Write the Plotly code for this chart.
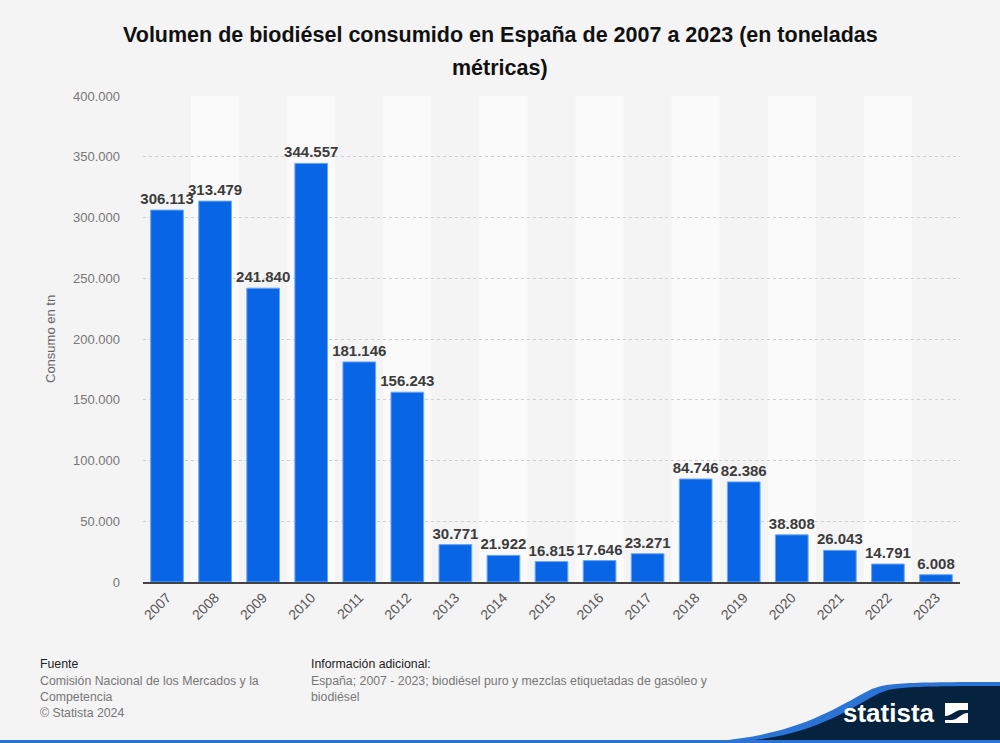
import plotly.graph_objects as go

years = ["2007","2008","2009","2010","2011","2012","2013","2014","2015","2016","2017","2018","2019","2020","2021","2022","2023"]
values = [306113,313479,241840,344557,181146,156243,30771,21922,16815,17646,23271,84746,82386,38808,26043,14791,6008]
y_ticks = [0,50000,100000,150000,200000,250000,300000,350000,400000]
y_tick_labels = ["0","50.000","100.000","150.000","200.000","250.000","300.000","350.000","400.000"]

W, H = 1000, 743
L, R, T, B = 143, 40, 96, 161
PW, PH = W - L - R, H - T - B

def px(x):
    return (x - L) / PW

def py(y):
    return (H - B - y) / PH

def fmt(v):
    return f"{v:,}".replace(",", ".")

fig = go.Figure()
fig.add_trace(go.Bar(
    x=years, y=values,
    marker=dict(color="#0866e6", line=dict(color="#6ea6f0", width=1)),
    text=[fmt(v) for v in values], textposition="outside",
    textfont=dict(family="Liberation Sans, Arial", size=15, color="#3c3c3c"),
    texttemplate="<b>%{text}</b>", cliponaxis=False,
    hoverinfo="skip", width=0.68,
))

shapes = []
for i, yr in enumerate(years):
    if i % 2 == 1:
        shapes.append(dict(type="rect", xref="x", yref="paper", x0=i-0.5, x1=i+0.5, y0=0, y1=1,
                           fillcolor="#fafafa", line=dict(width=0), layer="below"))

# footer logo shapes (pixel -> paper)
blue = (f"M {px(715)} {py(741)} C {px(800)} {py(735)}, {px(840)} {py(705)}, {px(870)} {py(690)} "
        f"C {px(885)} {py(683)}, {px(900)} {py(682)}, {px(1005)} {py(682)} L {px(1005)} {py(745)} L {px(715)} {py(745)} Z")
navy = (f"M {px(745)} {py(741)} C {px(815)} {py(735)}, {px(850)} {py(708)}, {px(878)} {py(694)} "
        f"C {px(892)} {py(687)}, {px(905)} {py(686)}, {px(1005)} {py(686)} L {px(1005)} {py(745)} L {px(745)} {py(745)} Z")
shapes.append(dict(type="path", xref="paper", yref="paper", path=blue, fillcolor="#2b74d6", line=dict(width=0)))
shapes.append(dict(type="path", xref="paper", yref="paper", path=navy, fillcolor="#05233e", line=dict(width=0)))
# bottom line
shapes.append(dict(type="rect", xref="paper", yref="paper", x0=px(-5), x1=px(1005), y0=py(745), y1=py(740),
                   fillcolor="#2b74d6", line=dict(width=0)))
# logo icon
shapes.append(dict(type="rect", xref="paper", yref="paper", x0=px(945), x1=px(968), y0=py(723), y1=py(703),
                   fillcolor="white", line=dict(width=0)))
icon = (f"M {px(945)} {py(716)} C {px(952)} {py(716)}, {px(955)} {py(710)}, {px(961)} {py(710)} L {px(968)} {py(710)} "
        f"L {px(968)} {py(713)} C {px(961)} {py(713)}, {px(958)} {py(720)}, {px(951)} {py(720)} L {px(945)} {py(720)} Z")
shapes.append(dict(type="path", xref="paper", yref="paper", path=icon, fillcolor="#05233e", line=dict(width=0)))

fig.update_layout(shapes=shapes)

fig.update_layout(
    width=W, height=H,
    paper_bgcolor="#f4f4f4", plot_bgcolor="#f4f4f4",
    margin=dict(l=L, r=R, t=T, b=B),
    showlegend=False,
    bargap=0.32,
    uniformtext=dict(minsize=15, mode="show"),
    font=dict(family="Liberation Sans, Arial"),
    xaxis=dict(type="category", tickangle=-45, tickfont=dict(size=14, color="#555555"),
               showline=True, linecolor="#444444", linewidth=2, ticks="", showgrid=False),
    yaxis=dict(range=[0, 400000], tickvals=y_ticks, ticktext=y_tick_labels,
               tickfont=dict(size=13, color="#777777"), showgrid=True, gridcolor="#d0d0d0",
               griddash="dot", gridwidth=1, zeroline=False, ticks="", ticklabelstandoff=22),
)

# y axis title
fig.add_annotation(text="Consumo en tn", xref="paper", yref="paper", x=px(50), y=py(339),
                   xanchor="center", yanchor="middle", textangle=-90, showarrow=False,
                   font=dict(family="Liberation Sans, Arial", size=13, color="#666666"))

# title lines
fig.add_annotation(text="<b>Volumen de biodiésel consumido en España de 2007 a 2023 (en toneladas</b>",
                   xref="paper", yref="paper", x=px(500), y=py(35), xanchor="center", yanchor="middle",
                   showarrow=False, font=dict(family="Liberation Sans, Arial", size=21.5, color="#111111"))
fig.add_annotation(text="<b>métricas)</b>",
                   xref="paper", yref="paper", x=px(500), y=py(68), xanchor="center", yanchor="middle",
                   showarrow=False, font=dict(family="Liberation Sans, Arial", size=21.5, color="#111111"))

ann = [
    dict(text="Fuente", x=38, y=655, color="#222222"),
    dict(text="Comisión Nacional de los Mercados y la<br>Competencia<br>© Statista 2024", x=38, y=672, color="#777777"),
    dict(text="Información adicional:", x=309, y=655, color="#222222"),
    dict(text="España; 2007 - 2023; biodiésel puro y mezclas etiquetadas de gasóleo y<br>biodiésel", x=309, y=672, color="#777777"),
]
for a in ann:
    fig.add_annotation(text=a["text"], xref="paper", yref="paper",
                       x=px(a["x"]), y=py(a["y"]),
                       xanchor="left", yanchor="top",
                       showarrow=False, align="left",
                       font=dict(family="Liberation Sans, Arial", size=12.3, color=a["color"]))

fig.add_annotation(text="<b>statista</b>", xref="paper", yref="paper",
                   x=px(889), y=py(713), xanchor="center", yanchor="middle",
                   showarrow=False, font=dict(family="Liberation Sans, Arial", size=26, color="white"))

fig.write_html("out.html")
